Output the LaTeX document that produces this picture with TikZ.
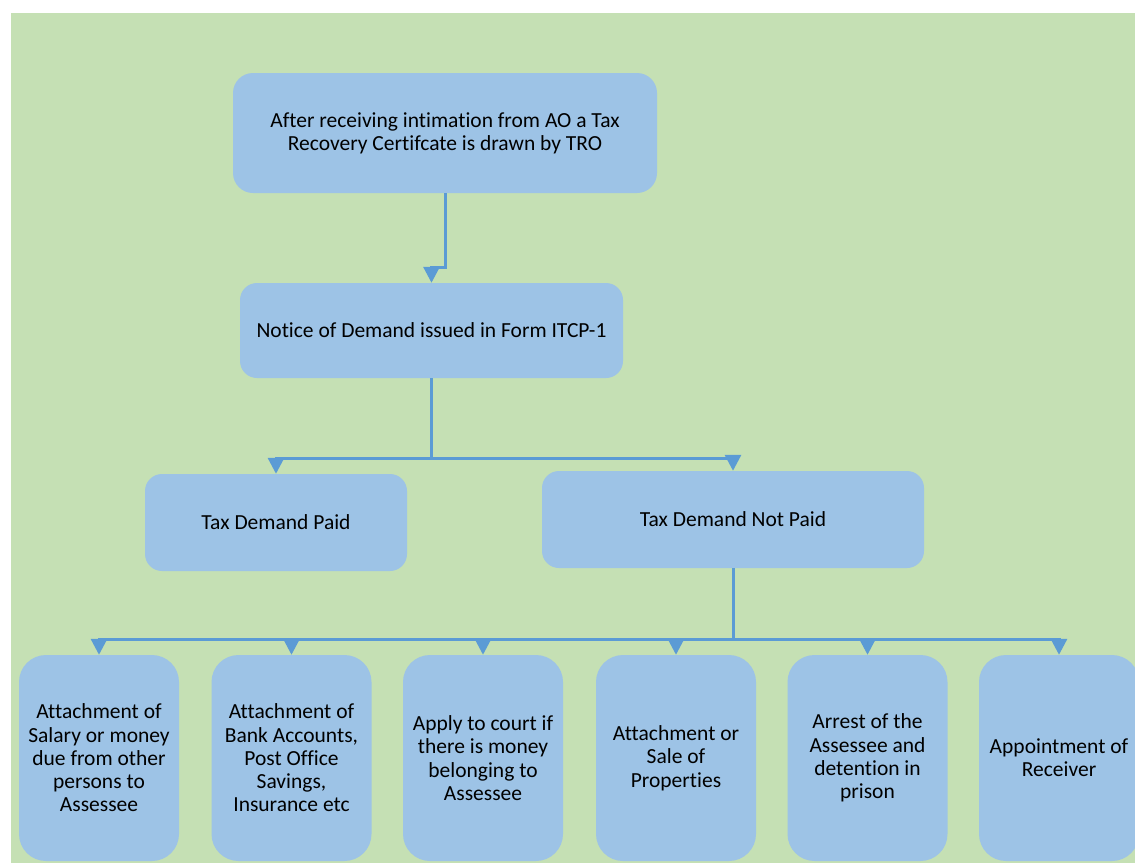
\documentclass[tikz,border=0pt]{standalone}
\usepackage{fontspec}
\setmainfont{Carlito}[Ligatures=NoCommon]
\usetikzlibrary{arrows.meta,calc}
\definecolor{bggreen}{HTML}{C5E0B4}
\definecolor{boxblue}{HTML}{9DC3E6}
\definecolor{linkblue}{HTML}{5B9BD5}
\begin{document}
\begin{tikzpicture}[x=1pt,y=-1pt,
  box/.style={fill=boxblue, draw=none, rectangle, inner sep=0pt, align=center,
    font=\fontsize{21.5}{23.3}\selectfont},
  wide/.style={box, rounded corners=17pt},
  tall/.style={box, rounded corners=27pt, minimum width=160pt, minimum height=206pt},
  conn/.style={draw=linkblue, line width=3pt, -{Triangle[length=16pt,width=16pt]}}]
\useasboundingbox (0,0) rectangle (1135,862);
\clip (0,0) rectangle (1135,862);
\fill[bggreen] (11,13) rectangle (1140,870);

\node[box, rounded corners=20pt, minimum width=424pt, minimum height=120pt] (top) at (445,133)
  {After receiving intimation from AO a Tax\\Recovery Certifcate is drawn by TRO};
\node[wide, minimum width=383pt, minimum height=95pt] (notice) at (431.5,330.5)
  {Notice of Demand issued in Form ITCP-1};
\node[wide, minimum width=262pt, minimum height=97pt] (paid) at (276,522.5)
  {Tax Demand Paid};
\node[wide, minimum width=382pt, minimum height=97pt] (notpaid) at (733,519.5)
  {Tax Demand Not Paid};

\node[tall] (b1) at (99,758) {Attachment of\\Salary or money\\due from other\\persons to\\Assessee};
\node[tall] (b2) at (291.5,758) {Attachment of\\Bank Accounts,\\Post Office\\Savings,\\Insurance etc};
\node[tall] (b3) at (483,758) {Apply to court if\\there is money\\belonging to\\Assessee};
\node[tall] (b4) at (676,758) {Attachment or\\Sale of\\Properties};
\node[tall] (b5) at (867.5,758) {Arrest of the\\Assessee and\\detention in\\prison};
\node[tall] (b6) at (1059,758) {Appointment of\\Receiver};

\draw[conn] (top.south) -- ++(0,74) -| (notice.north);

\coordinate (j1) at ($(notice.south)+(0,80)$);
\draw[conn] (notice.south) -- (j1) -| (paid.north);
\draw[conn] (j1) -| (notpaid.north);

\coordinate (j2) at ($(notpaid.south)+(0,71)$);
\draw[conn] (notpaid.south) -- (j2) -| (b1.north);
\draw[conn] (j2) -| (b2.north);
\draw[conn] (j2) -| (b3.north);
\draw[conn] (j2) -| (b4.north);
\draw[conn] (j2) -| (b5.north);
\draw[conn] (j2) -| (b6.north);
\end{tikzpicture}
\end{document}
